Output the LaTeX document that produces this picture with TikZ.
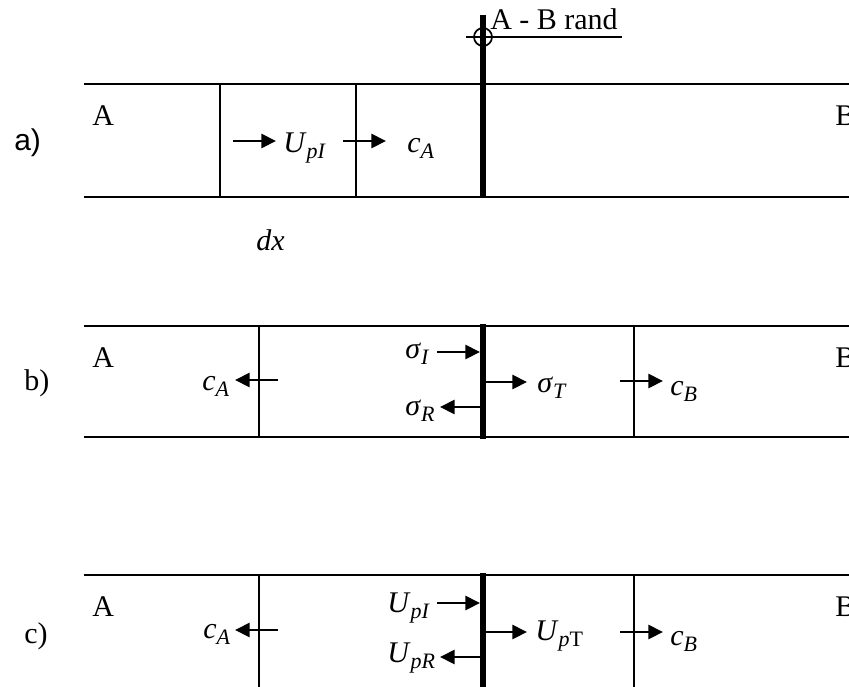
\documentclass[tikz,border=0pt]{standalone}
\usepackage{fontspec}
\setmainfont{Liberation Serif}
\newfontfamily\arialfont{Liberation Sans}
\usetikzlibrary{arrows.meta}
\newcommand\mysub[1]{\raisebox{-4.5pt}{\fontsize{16.5}{16.5}\selectfont #1}}
\begin{document}
\begin{tikzpicture}[x=0.75pt,y=-0.75pt,
  panelline/.style={line width=1.7pt},
  thinline/.style={line width=1.2pt},
  thickline/.style={line width=3.8pt},
  arr/.style={line width=2.1pt,-{Triangle[length=11pt,width=10.5pt]}},
  lbl/.style={inner sep=0pt,anchor=base west,font=\fontsize{22.5}{27}\selectfont},
  tag/.style={inner sep=0pt,anchor=base west,font=\fontsize{22.5}{27}\selectfont}]
\useasboundingbox (0,0) rectangle (849,686);
\clip (0,0) rectangle (849,686);
% ---------- panel a ----------
\coordinate (a1) at (84,84);  \coordinate (a2) at (849,84);
\coordinate (a3) at (84,197); \coordinate (a4) at (849,197);
\draw[panelline] (a1) -- (a2);
\draw[panelline] (a3) -- (a4);
\coordinate (av1t) at (220,84); \coordinate (av1b) at (220,197);
\coordinate (av2t) at (356,84); \coordinate (av2b) at (356,197);
\draw[thinline] (av1t) -- (av1b);
\draw[thinline] (av2t) -- (av2b);
\coordinate (abt) at (483,15); \coordinate (abb) at (483,197);
\draw[thickline] (abt) -- (abb);
\coordinate (cc) at (483,37);
\draw[line width=1.3pt] (cc) circle [radius=9];
\coordinate (rl) at (466,37); \coordinate (rr) at (622,37);
\draw[line width=1.6pt] (rl) -- (rr);
\node[lbl] (rand) at (490,29) {A - B rand};
\node[lbl] (aA) at (92,125) {A};
\node[lbl] (aB) at (835,125) {B};
\node[tag,font=\arialfont\fontsize{22.5}{27}\selectfont] (ta) at (14,150) {a)};
\coordinate (u1s) at (233,141); \coordinate (u1e) at (276,141);
\draw[arr] (u1s) -- (u1e);
\node[lbl] (aU) at (283,152) {\textit{U}\mysub{\textit{pI}}};
\coordinate (c1s) at (343,141); \coordinate (c1e) at (386,141);
\draw[arr] (c1s) -- (c1e);
\node[lbl] (acA) at (407,152) {\textit{c}\mysub{\textit{A}}};
\node[lbl] (dx) at (256,250) {\textit{dx}};
% ---------- panel b ----------
\coordinate (b1) at (84,326);  \coordinate (b2) at (849,326);
\coordinate (b3) at (84,437);  \coordinate (b4) at (849,437);
\draw[panelline] (b1) -- (b2);
\draw[panelline] (b3) -- (b4);
\coordinate (bv1t) at (259,326); \coordinate (bv1b) at (259,437);
\coordinate (bv2t) at (634,326); \coordinate (bv2b) at (634,437);
\draw[thinline] (bv1t) -- (bv1b);
\draw[thinline] (bv2t) -- (bv2b);
\coordinate (bbt) at (483,324); \coordinate (bbb) at (483,439);
\draw[thickline] (bbt) -- (bbb);
\node[lbl] (bA) at (92,367) {A};
\node[lbl] (bB) at (835,367) {B};
\node[tag] (tb) at (24,390) {b)};
\coordinate (bca1) at (278,380); \coordinate (bca2) at (235,380);
\draw[arr] (bca1) -- (bca2);
\node[lbl] (bcA) at (202,390) {\textit{c}\mysub{\textit{A}}};
\coordinate (si1) at (437,352); \coordinate (si2) at (480,352);
\draw[arr] (si1) -- (si2);
\node[lbl] (bsI) at (405,358) {\textit{σ}\mysub{\textit{I}}};
\coordinate (sr1) at (481,407); \coordinate (sr2) at (440,407);
\draw[arr] (sr1) -- (sr2);
\node[lbl] (bsR) at (405,415) {\textit{σ}\mysub{\textit{R}}};
\coordinate (st1) at (485,382); \coordinate (st2) at (527,382);
\draw[arr] (st1) -- (st2);
\node[lbl] (bsT) at (537,392) {\textit{σ}\mysub{\textit{T}}};
\coordinate (bcb1) at (620,381); \coordinate (bcb2) at (663,381);
\draw[arr] (bcb1) -- (bcb2);
\node[lbl] (bcB) at (670,395) {\textit{c}\mysub{\textit{B}}};
% ---------- panel c ----------
\coordinate (c1) at (84,575);  \coordinate (c2) at (849,575);
\draw[panelline] (c1) -- (c2);
\coordinate (cv1t) at (259,575); \coordinate (cv1b) at (259,690);
\coordinate (cv2t) at (634,575); \coordinate (cv2b) at (634,690);
\draw[thinline] (cv1t) -- (cv1b);
\draw[thinline] (cv2t) -- (cv2b);
\coordinate (cbt) at (483,573); \coordinate (cbb) at (483,690);
\draw[thickline] (cbt) -- (cbb);
\node[lbl] (cA) at (92,616) {A};
\node[lbl] (cB) at (835,616) {B};
\node[tag] (tc) at (24,643) {c)};
\coordinate (cca1) at (278,630); \coordinate (cca2) at (235,630);
\draw[arr] (cca1) -- (cca2);
\node[lbl] (ccA) at (203,638) {\textit{c}\mysub{\textit{A}}};
\coordinate (ui1) at (437,603); \coordinate (ui2) at (480,603);
\draw[arr] (ui1) -- (ui2);
\node[lbl] (cUI) at (387,612) {\textit{U}\mysub{\textit{pI}}};
\coordinate (ur1) at (481,657); \coordinate (ur2) at (440,657);
\draw[arr] (ur1) -- (ur2);
\node[lbl] (cUR) at (387,662) {\textit{U}\mysub{\textit{pR}}};
\coordinate (ut1) at (485,632); \coordinate (ut2) at (527,632);
\draw[arr] (ut1) -- (ut2);
\node[lbl] (cUT) at (535,640) {\textit{U}\mysub{\textit{p}T}};
\coordinate (ccb1) at (620,632); \coordinate (ccb2) at (663,632);
\draw[arr] (ccb1) -- (ccb2);
\node[lbl] (ccB) at (670,645) {\textit{c}\mysub{\textit{B}}};
\end{tikzpicture}
\end{document}
